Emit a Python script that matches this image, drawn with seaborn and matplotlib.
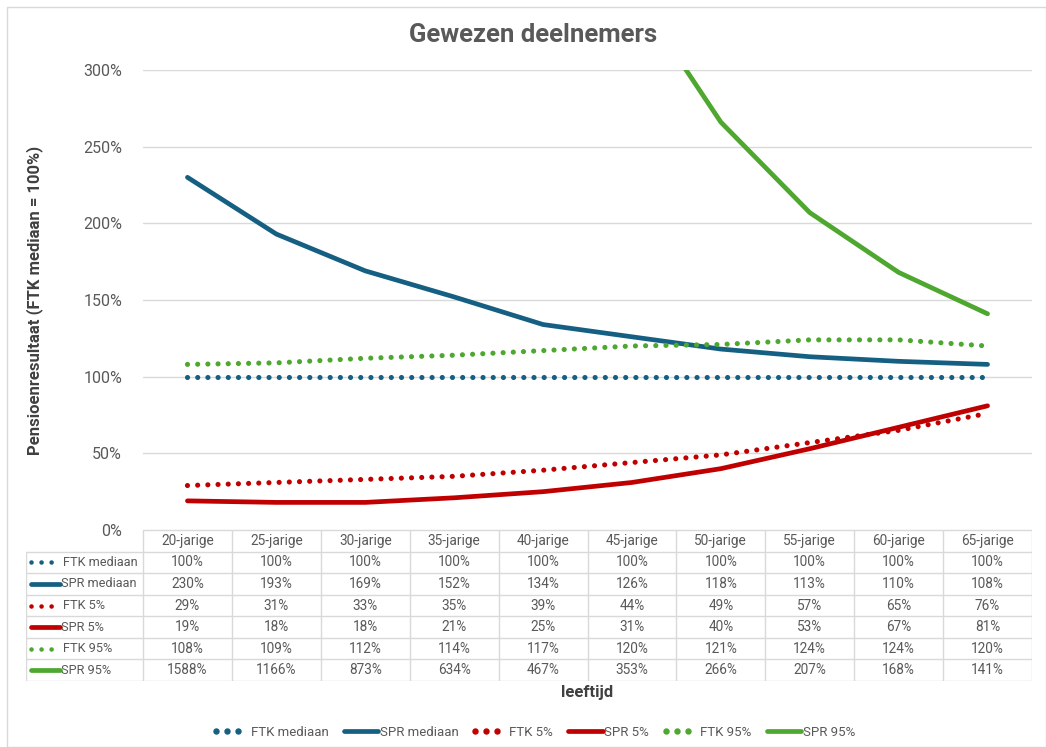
import numpy as np
import matplotlib
matplotlib.use("Agg")
import matplotlib.pyplot as plt
import seaborn as sns
from matplotlib.lines import Line2D
from matplotlib.patches import Rectangle
from matplotlib.legend_handler import HandlerLine2D

# data (percentages, FTK mediaan = 100%)
leeftijden = ["20-jarige", "25-jarige", "30-jarige", "35-jarige", "40-jarige",
              "45-jarige", "50-jarige", "55-jarige", "60-jarige", "65-jarige"]
ftk_mediaan = [100, 100, 100, 100, 100, 100, 100, 100, 100, 100]
spr_mediaan = [230, 193, 169, 152, 134, 126, 118, 113, 110, 108]
ftk_5 = [29, 31, 33, 35, 39, 44, 49, 57, 65, 76]
spr_5 = [19, 18, 18, 21, 25, 31, 40, 53, 67, 81]
ftk_95 = [108, 109, 112, 114, 117, 120, 121, 124, 124, 120]
spr_95 = [1588, 1166, 873, 634, 467, 353, 266, 207, 168, 141]

BLAUW = "#156082"
ROOD = "#C00000"
GROEN = "#4EA72E"
GRIJS = "#595959"

series = [
    ("FTK mediaan", ftk_mediaan, BLAUW, True),
    ("SPR mediaan", spr_mediaan, BLAUW, False),
    ("FTK 5%", ftk_5, ROOD, True),
    ("SPR 5%", spr_5, ROOD, False),
    ("FTK 95%", ftk_95, GROEN, True),
    ("SPR 95%", spr_95, GROEN, False),
]

sns.set_theme(style="white")
plt.rcParams['font.family'] = ['Roboto', 'DejaVu Sans']

LW = 3.4
DOT_LW = 3.7
DOT = (0, (0.01, 7.3 / DOT_LW))

fig = plt.figure(figsize=(10.46, 7.47), dpi=100)
fig.patches.append(Rectangle((0.007, 0.0), 0.993, 0.991, transform=fig.transFigure,
                             fill=False, edgecolor="#D9D9D9", linewidth=1))

W, H = 1046, 747
px_left, px_right = 143, 1032
y_top, y_bot = 70, 530
ax = fig.add_axes([px_left / W, 1 - y_bot / H, (px_right - px_left) / W, (y_bot - y_top) / H])

x = np.arange(len(leeftijden))
for naam, vals, kleur, gestippeld in series:
    if gestippeld:
        sns.lineplot(x=x, y=vals, ax=ax, color=kleur, linewidth=DOT_LW, linestyle=DOT,
                     dash_capstyle="round", label=naam)
    else:
        sns.lineplot(x=x, y=vals, ax=ax, color=kleur, linewidth=LW,
                     solid_capstyle="round", label=naam)

ax.set_xlim(-0.5, len(leeftijden) - 0.5)
ax.set_ylim(0, 300)
ax.set_yticks(np.arange(0, 301, 50))
ax.set_yticklabels([f"{v}%" for v in range(0, 301, 50)], color=GRIJS, fontsize=11.5)
ax.tick_params(axis="y", length=0, pad=15)
ax.set_xticks([])
ax.yaxis.grid(True, color="#D9D9D9", linewidth=1)
for s in ax.spines.values():
    s.set_visible(False)
ax.get_legend().remove()
ax.set_xlabel("")
ax.set_ylabel("")

fig.text(35 / W, 1 - 300 / H, "Pensioenresultaat (FTK mediaan = 100%)", rotation=90,
         ha="center", va="center", fontsize=12, fontweight="bold", color="#404040")
fig.text(533 / W, 1 - 35 / H, "Gewezen deelnemers", ha="center", va="center",
         fontsize=18.5, fontweight="bold", color=GRIJS)
fig.text(587 / W, 1 - 692 / H, "leeftijd", ha="center", va="center",
         fontsize=12, fontweight="bold", color="#404040")

# data table below the chart
t_left, t_bot = 26, 681
tab = fig.add_axes([t_left / W, 1 - t_bot / H, (px_right - t_left) / W, (t_bot - y_bot) / H])
scale = (px_right - px_left) / len(leeftijden)
x0 = -0.5 - (px_left - t_left) / scale
tab.set_xlim(x0, len(leeftijden) - 0.5)
tab.set_ylim(7, 0)
tab.axis("off")
lc = "#D9D9D9"
n = len(leeftijden)
tab.plot([-0.5, n - 0.5], [0, 0], color=lc, lw=1)
for r in range(1, 8):
    tab.plot([x0, n - 0.5], [r, r], color=lc, lw=1)
tab.plot([x0, x0], [1, 7], color=lc, lw=1)
for c in range(n + 1):
    tab.plot([c - 0.5, c - 0.5], [0, 7], color=lc, lw=1)
for i, lab in enumerate(leeftijden):
    tab.text(i, 0.5, lab, ha="center", va="center", fontsize=9.8, color=GRIJS)
p2c = lambda px: -0.5 + (px - px_left) / scale
for r, (naam, vals, kleur, gestippeld) in enumerate(series, start=1):
    if gestippeld:
        tab.plot([p2c(31), p2c(51.5)], [r + 0.5, r + 0.5], color=kleur, lw=3.3,
                 linestyle=(0, (0.01, 7.2 / 3.3)), dash_capstyle="round")
        tab.text(p2c(63), r + 0.5, naam, ha="left", va="center", fontsize=9.2, color=GRIJS)
    else:
        tab.plot([p2c(31), p2c(60)], [r + 0.5, r + 0.5], color=kleur, lw=LW,
                 solid_capstyle="round")
        tab.text(p2c(61), r + 0.5, naam, ha="left", va="center", fontsize=9.2, color=GRIJS)
    for i, v in enumerate(vals):
        tab.text(i, r + 0.5, f"{v}%", ha="center", va="center", fontsize=9.8, color=GRIJS)


# legend at the bottom: three dots on the left part of the handle
class DotHandler(HandlerLine2D):
    def get_xdata(self, legend, xdescent, ydescent, width, height, fontsize):
        xs = np.linspace(-xdescent + 1, -xdescent + width * 0.68, 3)
        return xs, xs


handles = []
hmap = {}
for naam, vals, kleur, gestippeld in series:
    if gestippeld:
        h = Line2D([], [], color=kleur, linestyle="None", marker="o",
                   markersize=3.6, label=naam)
        hmap[h] = DotHandler(numpoints=3)
    else:
        h = Line2D([], [], color=kleur, lw=LW, solid_capstyle="round", label=naam)
    handles.append(h)
fig.legend(handles=handles, handler_map=hmap, loc="center",
           bbox_to_anchor=(535 / W, 1 - 732 / H), ncol=6,
           frameon=False, fontsize=9.5, labelcolor=GRIJS, handlelength=2.6,
           handletextpad=0.12, columnspacing=1.15)

fig.savefig("out.png", dpi=100)
